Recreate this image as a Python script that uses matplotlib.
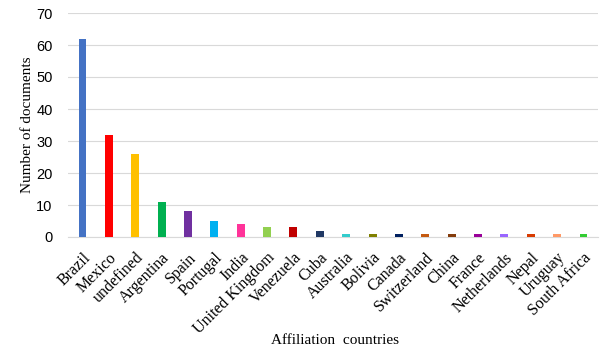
import matplotlib.pyplot as plt

countries = ['Brazil', 'Mexico', 'undefined', 'Argentina', 'Spain', 'Portugal', 'India',
             'United Kingdom', 'Venezuela', 'Cuba', 'Australia', 'Bolivia', 'Canada',
             'Switzerland', 'China', 'France', 'Netherlands', 'Nepal', 'Uruguay', 'South Africa']
documents = [62, 32, 26, 11, 8, 5, 4, 3, 3, 2, 1, 1, 1, 1, 1, 1, 1, 1, 1, 1]
colors = ['#4472C4', '#FF0000', '#FFC000', '#00B050', '#7030A0', '#00B0F0', '#FF3399',
          '#92D050', '#C00000', '#203864', '#33CCCC', '#808000', '#002060', '#C55A11',
          '#843C0C', '#990099', '#9966FF', '#D83B01', '#FF9966', '#33CC33']

fig = plt.figure(figsize=(6.12, 3.52), dpi=100)
ax = fig.add_axes([68 / 612, 1 - 237 / 352, 530 / 612, 224 / 352])

x = range(len(countries))
ax.bar(x, documents, width=0.3, color=colors, zorder=3)

ax.set_ylim(0, 70)
ax.set_xlim(-0.55, len(countries) - 0.45)
ax.set_yticks(range(0, 71, 10))
ax.grid(axis='y', color='#D9D9D9', linewidth=0.8, zorder=0)
for s in ['top', 'right', 'left']:
    ax.spines[s].set_visible(False)
ax.spines['bottom'].set_color('#D9D9D9')
ax.tick_params(length=0)
ax.tick_params(axis='y', labelsize=10.5, pad=11)
for t in ax.get_yticklabels():
    t.set_family('Liberation Sans')

ax.set_xticks(list(x))
ax.set_xticklabels(countries, rotation=45, ha='right', rotation_mode='anchor',
                   family='Liberation Serif', fontsize=11.5)
ax.tick_params(axis='x', pad=9)

ax.set_ylabel('Number of documents', family='Liberation Serif', fontsize=11, labelpad=2)
fig.text(335 / 612, 1 - 340 / 352, 'Affiliation  countries', family='Liberation Serif',
         fontsize=11, ha='center', va='center')

fig.savefig('out.png', dpi=100)
